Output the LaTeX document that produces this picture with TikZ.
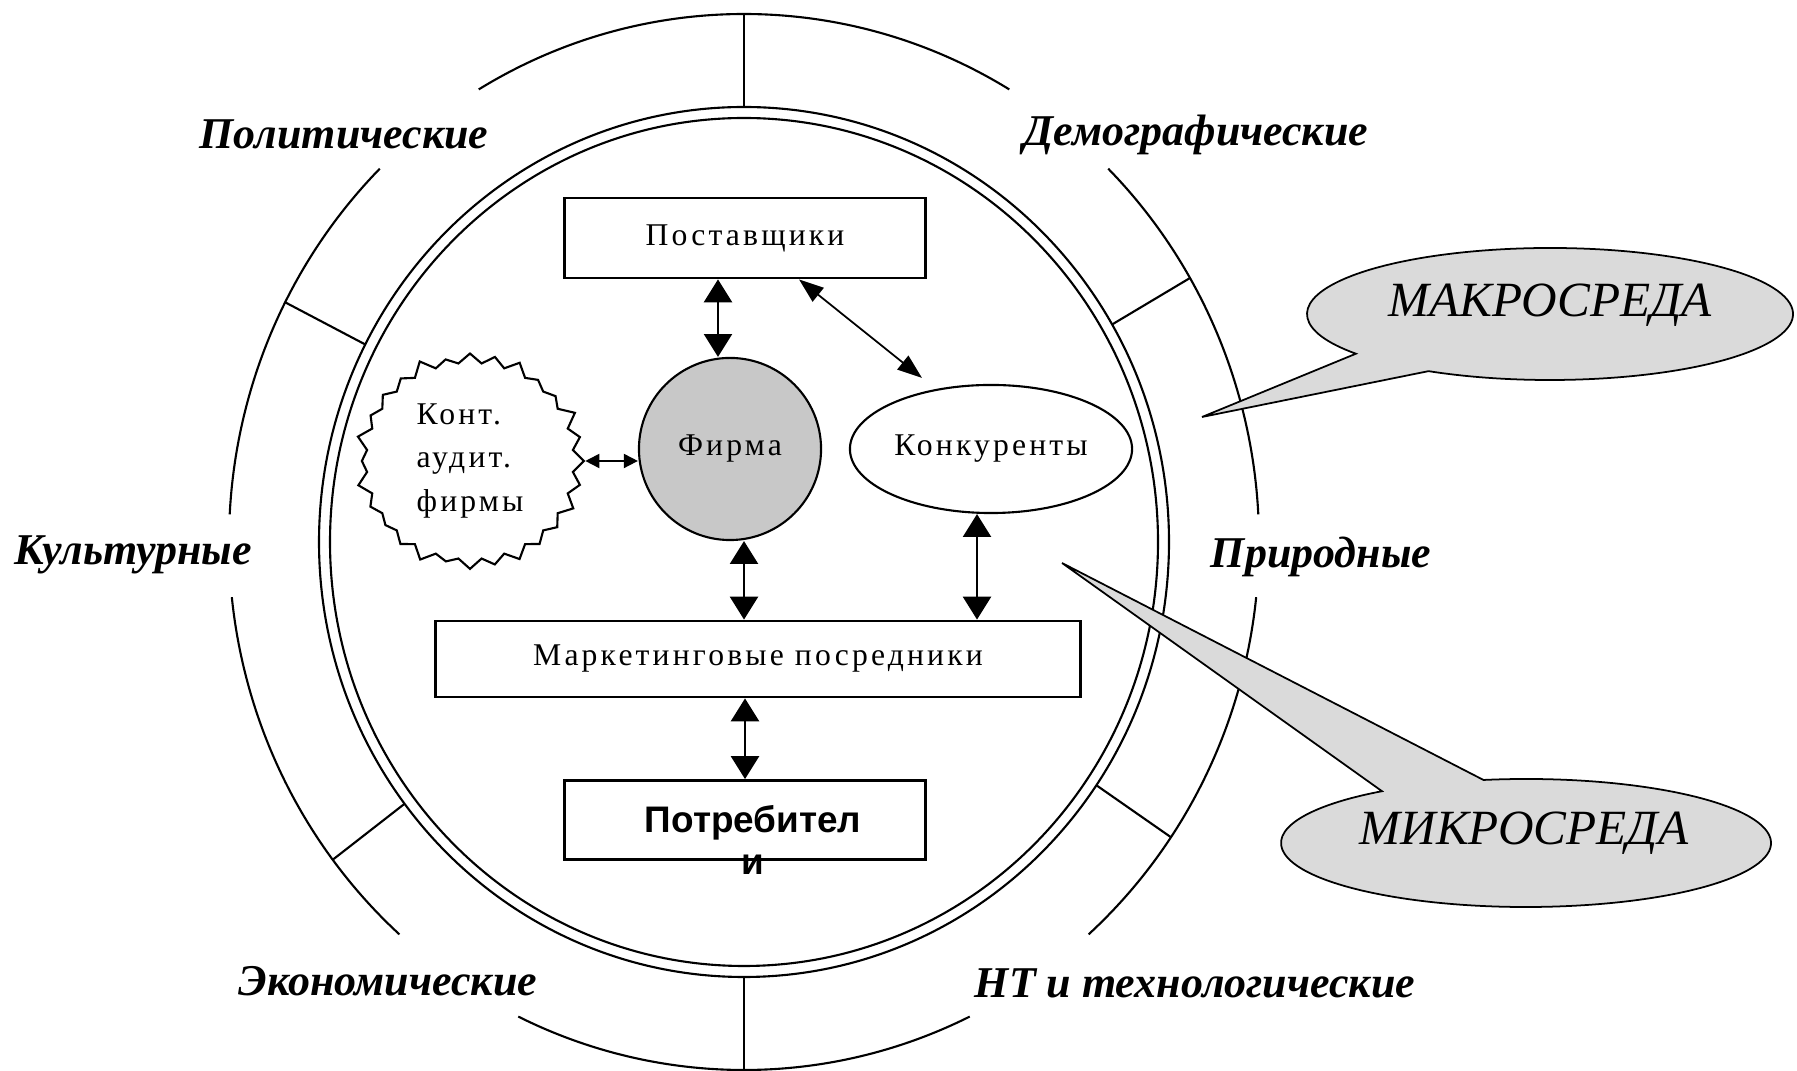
\documentclass[tikz,border=0pt]{standalone}
\usepackage{fontspec}
\setmainfont{Liberation Serif}
\setsansfont{Liberation Sans}
\newfontfamily\spacedfont{Liberation Serif}[LetterSpace=10]
\usetikzlibrary{arrows.meta,shapes,positioning,calc}
\definecolor{firmgray}{RGB}{200,200,200}
\definecolor{bubblegray}{RGB}{218,218,218}
\tikzstyle{txt} = [font=\spacedfont\fontsize{9}{12.5}\selectfont]
\tikzstyle{box} = [txt, draw, line width=0.8pt, minimum width=3.6cm, minimum height=0.8cm]
\tikzstyle{factor} = [font=\bfseries\itshape\fontsize{12.5}{15}\selectfont]
\tikzstyle{ringline} = [line width=0.6pt]
\tikzstyle{bigarrow} = [line width=0.5pt, {Triangle[length=6.5pt,width=8pt]}-{Triangle[length=6.5pt,width=8pt]}]
\tikzstyle{thinarrow} = [line width=0.5pt, {Triangle[length=7pt,width=5pt]}-{Triangle[length=7pt,width=5pt]}]
\tikzstyle{smallarrow} = [line width=0.5pt, {Triangle[length=4pt,width=4pt]}-{Triangle[length=4pt,width=4pt]}]
\tikzstyle{bubble} = [draw, line width=0.5pt, fill=bubblegray]

\begin{document}
\begin{tikzpicture}[x=0.01cm, y=0.01cm]
\useasboundingbox (0,0) rectangle (1797,-1071);
\coordinate (c) at (744,-542);

% Double border of the micro environment
\draw[ringline] (c) ellipse (425 and 435);
\draw[ringline] (c) ellipse (414 and 424);

% Outer ring of the macro environment
\begin{scope}[shift={(c)}, ringline]
\draw (59:515 and 528) arc (59:121:515 and 528);
\draw (135:515 and 528) arc (135:177:515 and 528);
\draw (186:515 and 528) arc (186:228:515 and 528);
\draw (244:515 and 528) arc (244:296:515 and 528);
\draw (312:515 and 528) arc (312:354:515 and 528);
\draw (3:515 and 528) arc (3:45:515 and 528);
\foreach \a in {30,90,153,217,270,326}
  \draw (\a:425 and 435) -- (\a:515 and 528);
\end{scope}

% Macro factors
\node[factor] (polit) at (344,-134) {Политические};
\node[factor] (demo) at (1196,-135) {Демографические};
\node[factor] (kult) at (133,-555) {Культурные};
\node[factor] (prir) at (1321,-557) {Природные};
\node[factor] (ekon) at (388,-981) {Экономические};
\node[factor] (tech) at (1195,-983) {НТ и технологические};

% Micro environment
\node[box] (post) at (745,-238) {Поставщики};
\node[txt, draw, circle, line width=0.6pt, fill=firmgray, minimum size=1.82cm] (firm) at (730,-449) {Фирма};
\node[txt, draw, ellipse, line width=0.6pt, inner sep=0pt, minimum width=2.82cm, minimum height=1.28cm] (konk) at (991,-449) {Конкуренты};
\node[txt, draw, starburst, starburst points=28, starburst point height=0.13cm, line width=0.6pt,
  minimum width=2.33cm, minimum height=2.06cm, align=left] (audit) at (470,-461) {Конт.\\аудит.\\фирмы};
\node[box, minimum width=6.45cm, minimum height=0.76cm] (mark) at (758,-659) {Маркетинговые посредники};
\node[box, minimum height=0.79cm] (potr) at (745,-820) {};
\node[font=\sffamily\bfseries\fontsize{10.5}{12.2}\selectfont, align=center] (potrtext) at (753,-840) {Потребител\\и};

% Links
\draw[bigarrow] ([xshift=-0.27cm]post.south) -- ([xshift=-0.27cm]post.south |- firm.north);
\draw[thinarrow] ([xshift=0.54cm]post.south) -- ([xshift=-0.69cm,yshift=0.06cm]konk.north);
\draw[smallarrow] (audit.east) -- (audit.east -| firm.west);
\draw[bigarrow] ([xshift=0.14cm]firm.south) -- ([xshift=0.14cm]firm.south |- mark.north);
\draw[bigarrow] ([xshift=-0.14cm]konk.south) -- ([xshift=-0.14cm]konk.south |- mark.north);
\draw[bigarrow] (potr.north |- mark.south) -- (potr.north);

% Callouts
\coordinate (macrotip) at (1202,-417);
\coordinate (macroc) at (1550,-314);
\path[bubble] (macrotip) -- ($(macroc)+(-120:243 and 66)$) arc (-120:217:243 and 66) -- cycle;
\node[font=\itshape\fontsize{14}{16}\selectfont] (macro) at (1550,-305) {МАКРОСРЕДА};
\coordinate (microtip) at (1062,-563);
\coordinate (microc) at (1526,-843);
\path[bubble] (microtip) -- ($(microc)+(100:245 and 64)$) arc (100:-234:245 and 64) -- cycle;
\node[font=\itshape\fontsize{14}{16}\selectfont] (micro) at (1524,-833) {МИКРОСРЕДА};
\end{tikzpicture}
\end{document}
